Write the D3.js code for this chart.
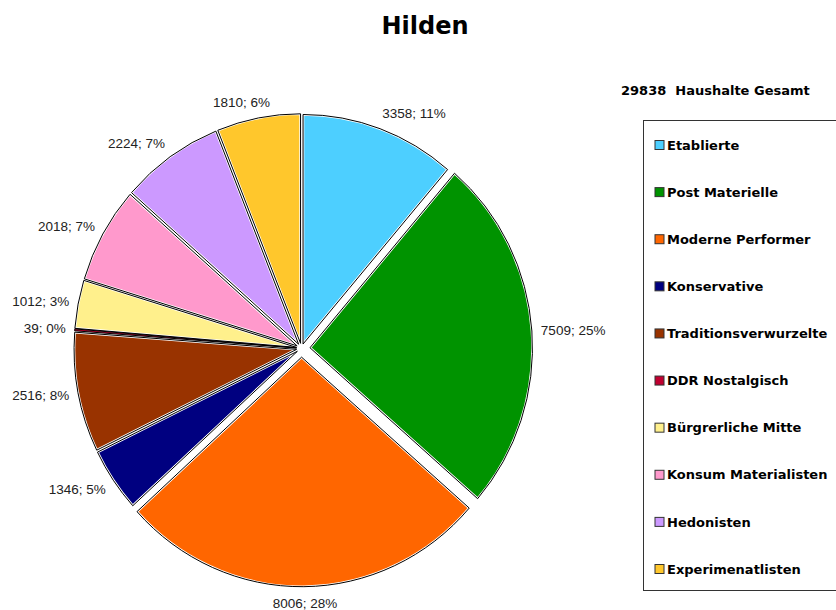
<!DOCTYPE html>
<html>
<head>
<meta charset="utf-8">
<script src="https://cdn.jsdelivr.net/npm/d3@7/dist/d3.min.js"></script>
<style>
  body { margin: 0; background: #fff; }
  svg { display: block; }
</style>
</head>
<body>
<div id="chart"></div>
<script>
var categories = ["Etablierte", "Post Materielle", "Moderne Performer", "Konservative",
  "Traditionsverwurzelte", "DDR Nostalgisch", "Bürgrerliche Mitte",
  "Konsum Materialisten", "Hedonisten", "Experimenatlisten"]
var values = [3358, 7509, 8006, 1346, 2516, 39, 1012, 2018, 2224, 1810]
var percents = [11, 25, 28, 5, 8, 0, 3, 7, 7, 6]
var colors = ["#4dcfff", "#009300", "#ff6600", "#000080", "#993300",
  "#c00030", "#fff08c", "#ff99cc", "#cc99ff", "#ffc72c"]
var total = 29838

var width = 836, height = 610
var cx = 301.5, cy = 348.4, R = 222.5, sy = 1.0316

// slices pulled out of the pie
var explode = {"Etablierte": 4.5, "Post Materielle": 8.5, "Moderne Performer": 8.5}
function off(name) { return explode[name] != null ? explode[name] : 5 }

var svg = d3.select("#chart").append("svg")
    .attr("width", width)
    .attr("height", height)

svg.append("text")
    .attr("x", 425).attr("y", 34)
    .attr("text-anchor", "middle")
    .style("font-family", "DejaVu Sans, Verdana, sans-serif")
    .style("font-weight", "bold")
    .style("font-size", "24px")
    .text("Hilden")

var data = categories.map(function(c, i) { return {name: c, value: values[i], pct: percents[i], color: colors[i]} })

var pie = d3.pie().sort(null).value(function(d) { return d.value })
var arc = d3.arc().innerRadius(0).outerRadius(R)
var arcs = pie(data)

var g = svg.append("g")
    .attr("transform", "translate(" + cx + "," + cy + ") scale(1," + sy + ")")

function shift(d) {
  var a = (d.startAngle + d.endAngle) / 2, o = off(d.data.name)
  return "translate(" + (o * Math.sin(a)) + "," + (-o * Math.cos(a)) + ")"
}

// fills with a thin white rim (largest first so slivers stay visible), then black outlines
var bySize = arcs.slice().sort(function(a, b) { return b.value - a.value })

g.selectAll("path.fill")
  .data(bySize)
  .enter().append("path")
    .attr("class", "fill")
    .attr("d", arc)
    .attr("transform", shift)
    .attr("fill", function(d) { return d.data.color })
    .attr("stroke", "#fff")
    .attr("stroke-width", function(d) { return (d.endAngle - d.startAngle) * R < 10 ? 0 : 2.5 })
    .attr("stroke-linejoin", "round")
    .attr("vector-effect", "non-scaling-stroke")

g.selectAll("path.edge")
  .data(arcs)
  .enter().append("path")
    .attr("class", "edge")
    .attr("d", arc)
    .attr("transform", shift)
    .attr("fill", "none")
    .attr("stroke", "#000")
    .attr("stroke-width", 1)
    .attr("vector-effect", "non-scaling-stroke")

var labels = svg.append("g")
    .style("font-family", "Liberation Sans, Arial, sans-serif")
    .style("font-size", "13.5px")
    .attr("fill", "#222")

arcs.forEach(function(d) {
  var a = (d.startAngle + d.endAngle) / 2
  var r = R + off(d.data.name) + 9
  var s = Math.sin(a), c = Math.cos(a)
  var x = cx + r * s
  var y = cy - r * sy * c - 7 * c
  var t = labels.append("text")
      .attr("y", y)
      .attr("dy", "0.35em")
      .text(d.data.value + "; " + d.data.pct + "%")
  var w = t.node().getComputedTextLength()
  var f = Math.max(0, Math.min(1, 0.5 - s * 1.4))
  t.attr("x", x - w * f)
})

// legend
var leg = svg.append("g")
    .style("font-family", "DejaVu Sans, Verdana, sans-serif")
    .style("font-weight", "bold")
    .style("font-size", "13px")

leg.append("text")
    .attr("x", 621).attr("y", 95)
    .attr("xml:space", "preserve")
    .text(total + "  Haushalte Gesamt")

leg.append("rect")
    .attr("x", 643.5).attr("y", 120.5)
    .attr("width", 220).attr("height", 470)
    .attr("fill", "none")
    .attr("stroke", "#333")
    .attr("stroke-width", 1)

var legY = d3.scalePoint().domain(categories).range([145, 569])

var items = leg.selectAll("g.item")
  .data(data)
  .enter().append("g")
    .attr("transform", function(d) { return "translate(0," + legY(d.name) + ")" })

items.append("rect")
    .attr("x", 655).attr("y", -4.5)
    .attr("width", 9).attr("height", 9)
    .attr("fill", function(d) { return d.color })
    .attr("stroke", "#333")
    .attr("stroke-width", 1)

items.append("text")
    .attr("x", 667)
    .attr("dy", "0.36em")
    .text(function(d) { return d.name })
</script>
</body>
</html>
